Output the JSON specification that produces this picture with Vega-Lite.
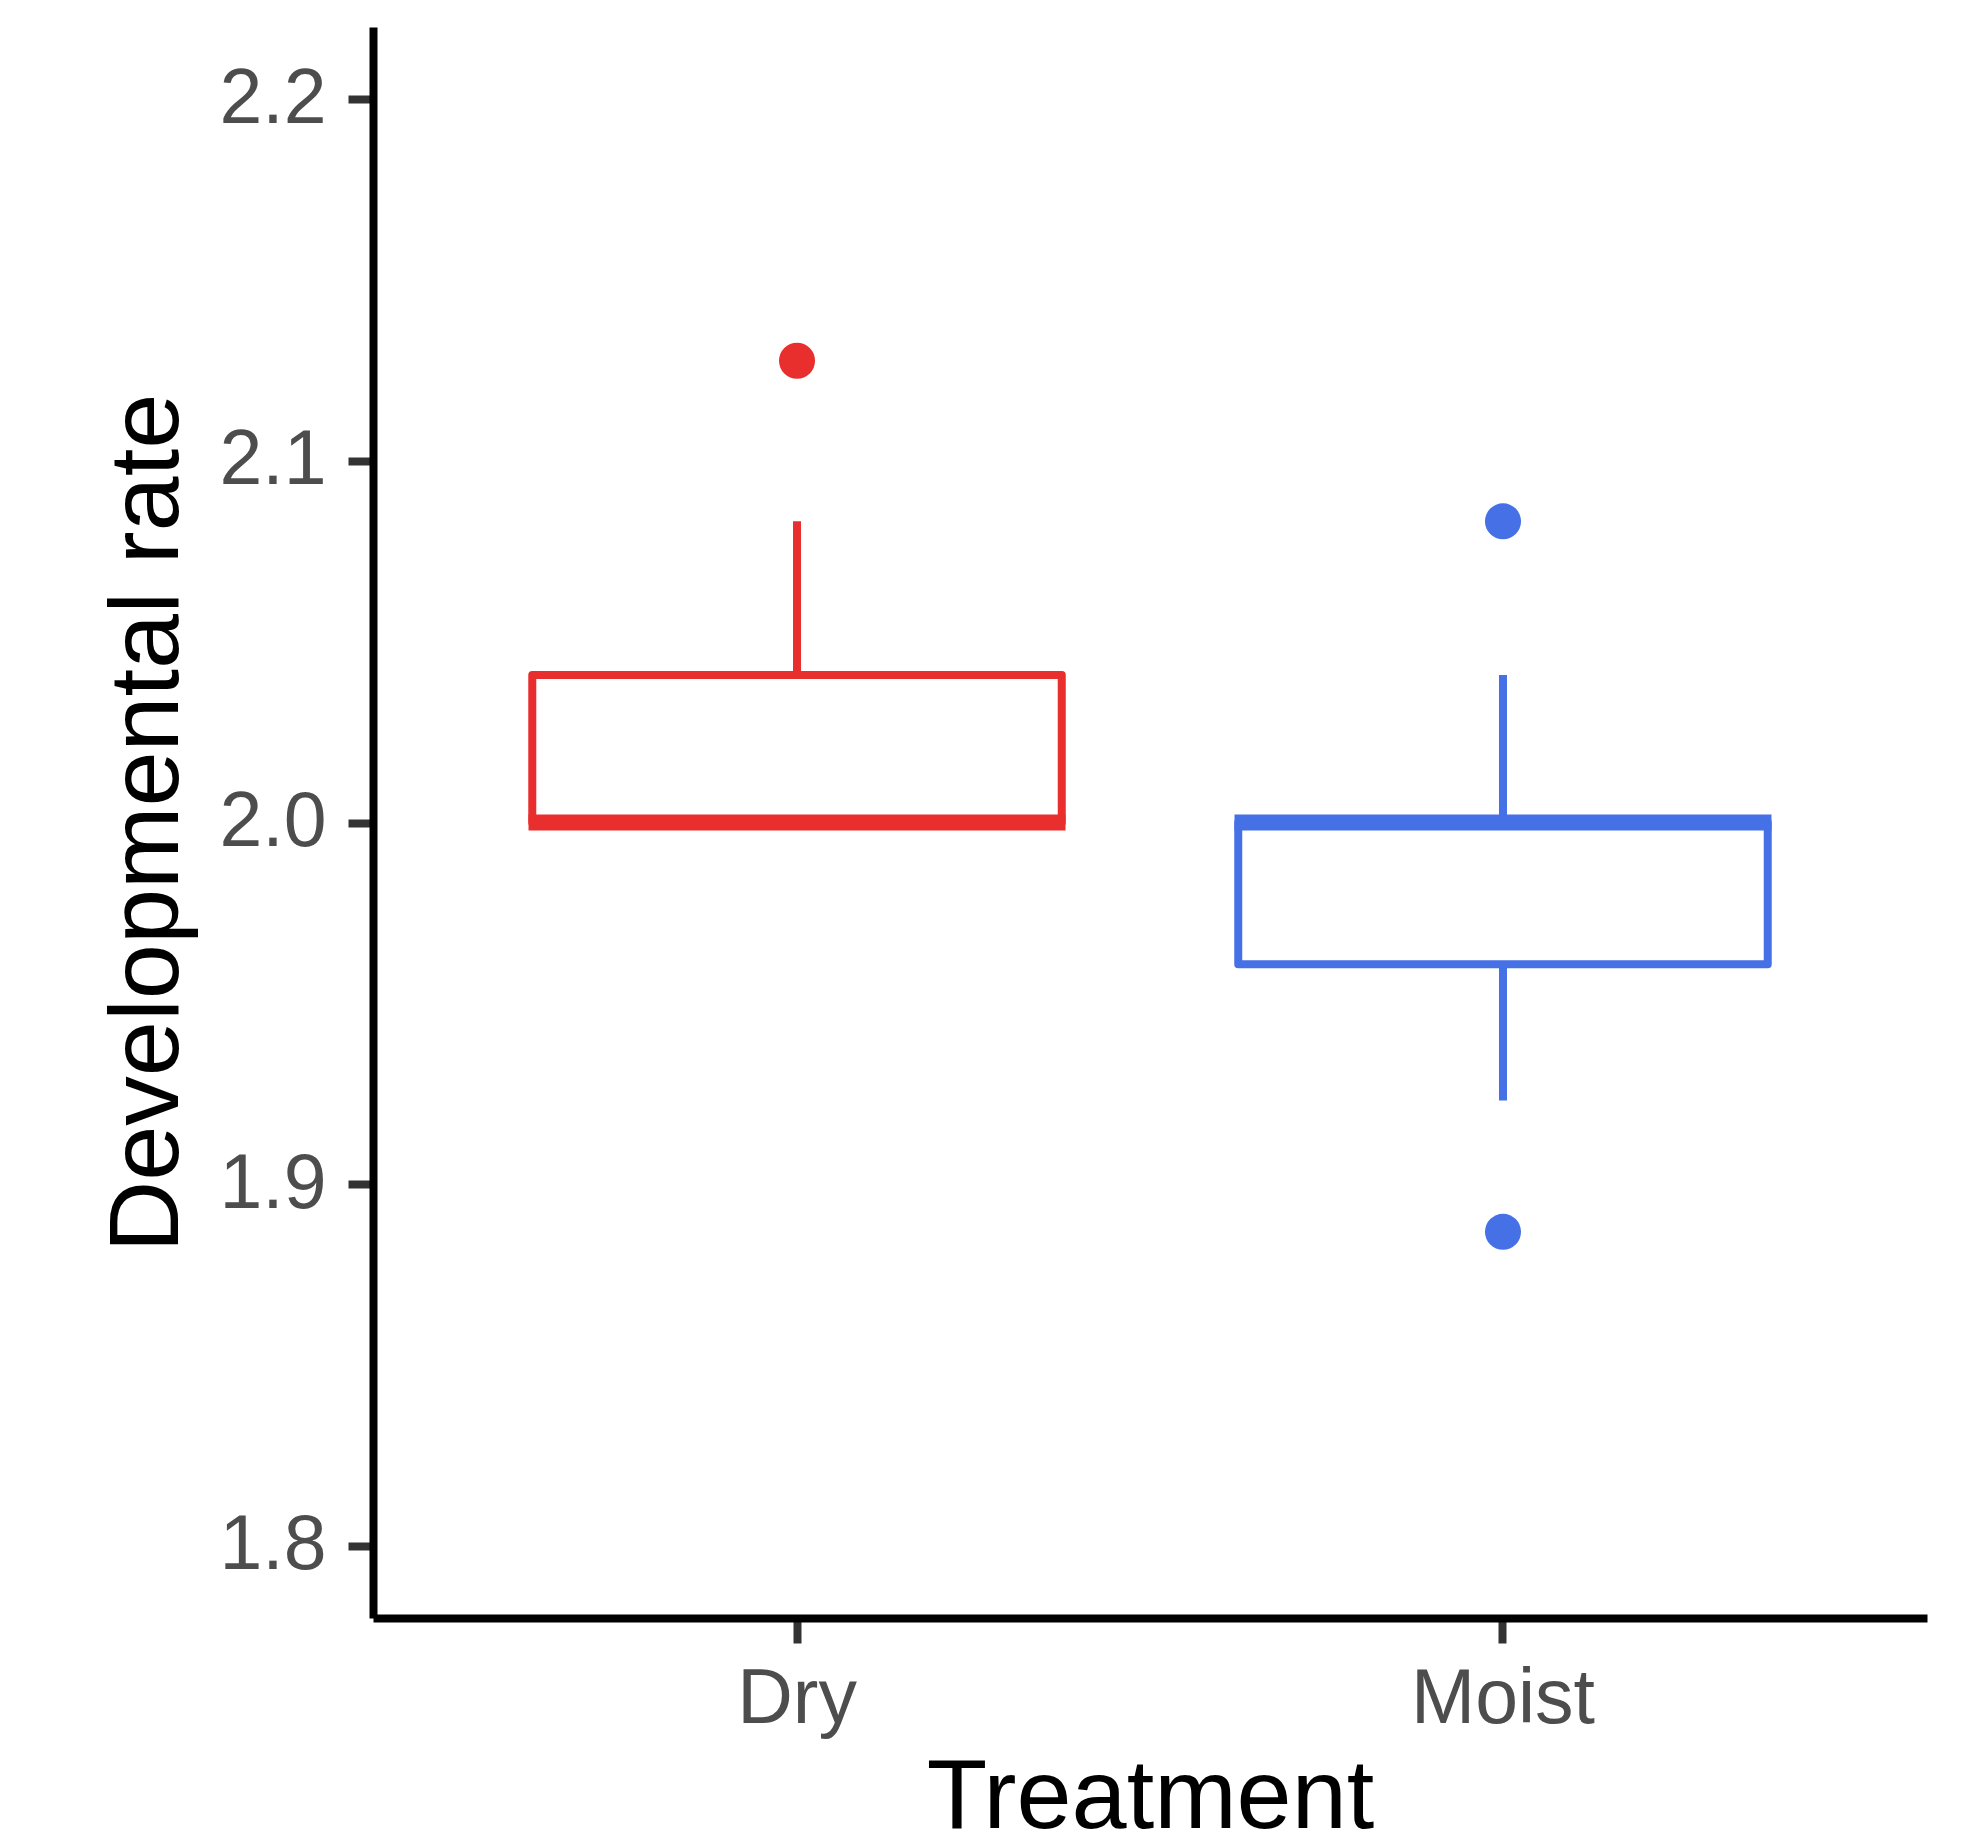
{
  "$schema": "https://vega.github.io/schema/vega-lite/v6.json",
  "autosize": "none",
  "width": 1554,
  "height": 1591,
  "padding": {"left": 373, "top": 27, "right": 55, "bottom": 230},
  "background": "white",
  "datasets": {
    "box": [
      {"Treatment": "Dry", "lower": 2.0, "q1": 2.0, "median": 2.0, "q3": 2.0408, "upper": 2.0833},
      {"Treatment": "Moist", "lower": 1.9231, "q1": 1.9608, "median": 2.0, "q3": 2.0, "upper": 2.0408}
    ],
    "outliers": [
      {"Treatment": "Dry", "rate": 2.1277},
      {"Treatment": "Moist", "rate": 2.0833},
      {"Treatment": "Moist", "rate": 1.8868}
    ]
  },
  "config": {
    "view": {"stroke": null},
    "axis": {
      "grid": false,
      "domainColor": "black",
      "domainWidth": 8,
      "tickColor": "#333333",
      "tickWidth": 8,
      "tickSize": 25,
      "labelFont": "Liberation Sans",
      "labelFontSize": 77,
      "labelColor": "#4D4D4D",
      "labelLimit": 0,
      "titleFont": "Liberation Sans",
      "titleFontSize": 99,
      "titleFontWeight": "normal",
      "titleColor": "black",
      "titleLimit": 0
    }
  },
  "encoding": {
    "x": {
      "field": "Treatment",
      "type": "nominal",
      "scale": {"domain": ["Dry", "Moist"], "paddingInner": 0.25, "paddingOuter": 0.2256},
      "axis": {
        "title": "Treatment",
        "labelAngle": 0,
        "bandPosition": 0.5,
        "labelBaseline": "alphabetic",
        "labelPadding": 79,
        "titleBaseline": "alphabetic",
        "titleY": 209,
        "titleX": 777,
        "titleAlign": "center"
      }
    },
    "color": {
      "field": "Treatment",
      "type": "nominal",
      "scale": {"domain": ["Dry", "Moist"], "range": ["#E92E2E", "#4570E6"]},
      "legend": null
    }
  },
  "layer": [
    {
      "data": {"name": "box"},
      "mark": {"type": "rule", "strokeWidth": 8},
      "encoding": {
        "y": {
          "field": "lower",
          "type": "quantitative",
          "scale": {"domain": [1.78, 2.22], "nice": false, "zero": false},
          "axis": {
            "title": "Developmental rate",
            "values": [1.8, 1.9, 2.0, 2.1, 2.2],
            "format": ".1f",
            "labelPadding": 22,
            "titleAngle": -90,
            "titleBaseline": "alphabetic",
            "titleAlign": "center",
            "titleX": -196,
            "titleY": 795.5
          }
        },
        "y2": {"field": "q1"}
      }
    },
    {
      "data": {"name": "box"},
      "mark": {"type": "rule", "strokeWidth": 8},
      "encoding": {
        "y": {"field": "q3", "type": "quantitative"},
        "y2": {"field": "upper"}
      }
    },
    {
      "data": {"name": "box"},
      "mark": {"type": "bar", "fill": "white", "strokeWidth": 8, "strokeJoin": "round", "width": {"band": 1}},
      "encoding": {
        "y": {"field": "q1", "type": "quantitative"},
        "y2": {"field": "q3"},
        "stroke": {"field": "Treatment", "type": "nominal", "scale": {"domain": ["Dry", "Moist"], "range": ["#E92E2E", "#4570E6"]}, "legend": null}
      }
    },
    {
      "data": {"name": "box"},
      "mark": {"type": "tick", "orient": "horizontal", "size": 537, "thickness": 16, "opacity": 1},
      "encoding": {
        "y": {"field": "median", "type": "quantitative"}
      }
    },
    {
      "data": {"name": "outliers"},
      "mark": {"type": "point", "filled": true, "shape": "circle", "size": 1300, "opacity": 1},
      "encoding": {
        "y": {"field": "rate", "type": "quantitative"}
      }
    }
  ]
}
